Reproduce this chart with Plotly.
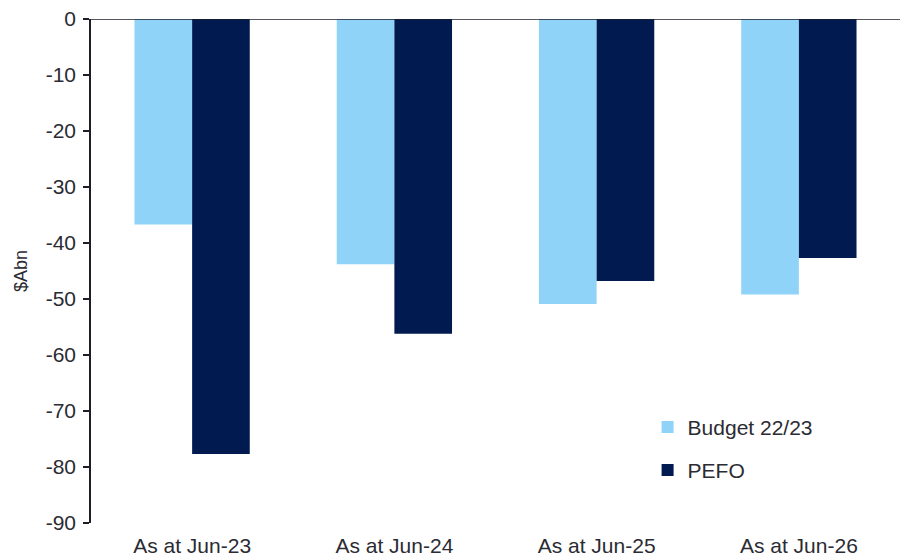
import plotly.graph_objects as go

categories = ["As at Jun-23", "As at Jun-24", "As at Jun-25", "As at Jun-26"]
budget_2223 = [-36.7, -43.8, -50.9, -49.2]
pefo = [-77.7, -56.2, -46.8, -42.7]
y_ticks = [0, -10, -20, -30, -40, -50, -60, -70, -80, -90]
y_tick_labels = [str(v) for v in y_ticks]
y_title = "$Abn"

LIGHT = "#8fd3f9"
DARK = "#011b50"
TEXT = "#2b2b33"
FONT = "Liberation Sans, Arial, sans-serif"

fig = go.Figure()
fig.add_trace(go.Bar(x=categories, y=budget_2223, name="Budget 22/23",
                     marker=dict(color=LIGHT, line=dict(width=0)), legend="legend"))
fig.add_trace(go.Bar(x=categories, y=pefo, name="PEFO",
                     marker=dict(color=DARK, line=dict(width=0)), legend="legend2"))

fig.add_shape(type="line", xref="paper", yref="y", x0=0, x1=1, y0=0, y1=0,
              line=dict(color="#1e1e28", width=1.5), layer="above")

# y-axis title placed as rotated text left of the tick labels
fig.add_annotation(text=y_title, xref="paper", yref="paper", x=-0.0865, y=0.5,
                   xanchor="center", yanchor="middle", textangle=-90, showarrow=False,
                   font=dict(family=FONT, size=18, color=TEXT))

legend_common = dict(font=dict(family=FONT, size=21, color=TEXT), bgcolor="rgba(0,0,0,0)",
                     xanchor="left", yanchor="middle", itemwidth=30, borderwidth=0)

fig.update_layout(
    width=902, height=559,
    margin=dict(l=91, r=2, t=19, b=36),
    paper_bgcolor="white", plot_bgcolor="white",
    barmode="group", bargap=0.43, bargroupgap=0,
    font=dict(family=FONT, size=21, color=TEXT),
    showlegend=True,
    legend=dict(x=0.688, y=0.190, **legend_common),
    legend2=dict(x=0.688, y=0.1045, **legend_common),
    xaxis=dict(showline=False, showgrid=False, zeroline=False, ticks="",
               tickfont=dict(family=FONT, size=21, color=TEXT), ticklabelstandoff=8),
    yaxis=dict(range=[-90, 0], tickvals=y_ticks, ticktext=y_tick_labels,
               showgrid=False, zeroline=False,
               showline=True, linecolor="#1e1e28", linewidth=1.5,
               ticks="outside", ticklen=6, tickcolor="#1e1e28", tickwidth=1.5,
               ticklabelstandoff=3,
               tickfont=dict(family=FONT, size=21, color=TEXT)),
)

fig.write_html("out.html")
